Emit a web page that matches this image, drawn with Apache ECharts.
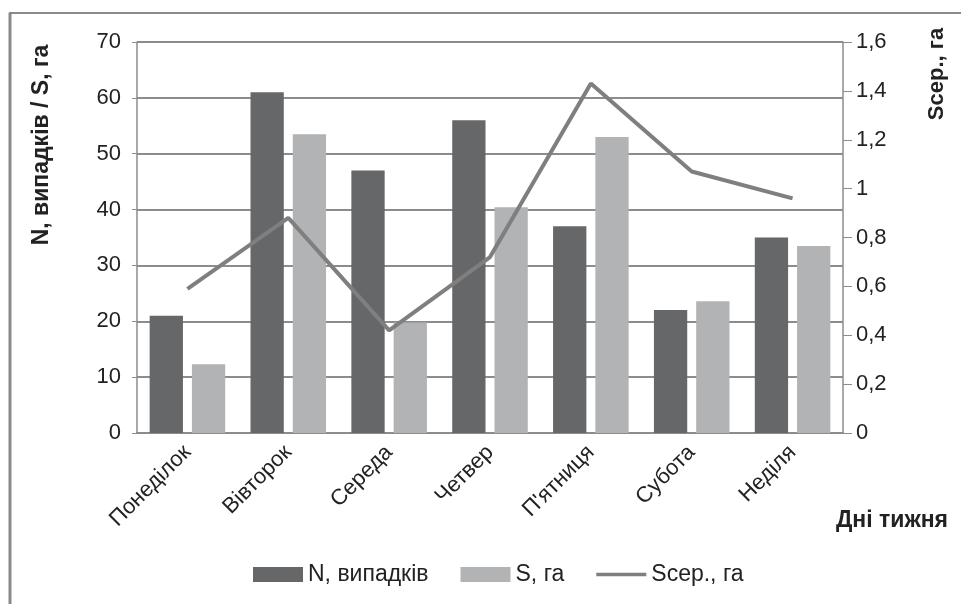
<!DOCTYPE html>
<html>
<head>
<meta charset="utf-8">
<script src="https://cdn.jsdelivr.net/npm/echarts@6/dist/echarts.min.js"></script>
<style>html,body{margin:0;padding:0;background:#fff;}#c{width:961px;height:604px;}</style>
</head>
<body>
<div id="c"></div>
<script>
const categories = ['Понеділок','Вівторок','Середа','Четвер','П\'ятниця','Субота','Неділя'];
const nCases = [21, 61, 47, 56, 37, 22, 35];
const areaS = [12.3, 53.5, 19.8, 40.4, 53, 23.6, 33.5];
const areaAvg = [0.59, 0.88, 0.42, 0.72, 1.43, 1.07, 0.96];
const leftTicks = {min: 0, max: 70, interval: 10};
const rightTicks = {min: 0, max: 1.6, interval: 0.2};

const chart = echarts.init(document.getElementById('c'));
const gridColor = '#8c8c8c';
const font = 'Liberation Sans';
chart.setOption({
  animation: false,
  backgroundColor: '#fff',
  textStyle: {fontFamily: font},
  grid: {left: 137, right: 118, top: 42, bottom: 171, containLabel: false},
  legend: {
    top: 558, left: 248, itemWidth: 50, itemHeight: 15, itemGap: 32,
    textStyle: {fontSize: 23, color: '#222'},
    data: [
      {name: 'N, випадків', icon: 'rect'},
      {name: 'S, га', icon: 'rect'},
      {name: 'Sсер., га', icon: 'path://M0,0L54,0L54,4L0,4Z', itemStyle: {color: '#7f7f7f'}}
    ]
  },
  xAxis: {
    type: 'category', data: categories,
    axisLine: {lineStyle: {color: gridColor, width: 2}},
    axisTick: {show: false},
    axisLabel: {rotate: 45, fontSize: 22, color: '#222', margin: 16, interval: 0}
  },
  yAxis: [
    {
      type: 'value', min: leftTicks.min, max: leftTicks.max, interval: leftTicks.interval,
      axisLine: {show: true, lineStyle: {color: gridColor, width: 1.5}},
      axisTick: {show: true, length: 5, lineStyle: {color: gridColor}},
      splitLine: {lineStyle: {color: gridColor, width: 2}},
      axisLabel: {fontSize: 22, color: '#222', margin: 16}
    },
    {
      type: 'value', min: rightTicks.min, max: rightTicks.max, interval: rightTicks.interval,
      position: 'right',
      axisLine: {show: true, lineStyle: {color: gridColor, width: 1.5}},
      axisTick: {show: true, length: 9, lineStyle: {color: gridColor}},
      splitLine: {show: false},
      axisLabel: {fontSize: 22, color: '#222', margin: 13,
        formatter: v => String(Math.round(v * 10) / 10).replace('.', ',')}
    }
  ],
  series: [
    {name: 'N, випадків', type: 'bar', data: nCases, barWidth: '33%', barGap: '27%',
      itemStyle: {color: '#666769'}},
    {name: 'S, га', type: 'bar', data: areaS, barWidth: '33%',
      itemStyle: {color: '#b2b3b5'}},
    {name: 'Sсер., га', type: 'line', yAxisIndex: 1, data: areaAvg, symbol: 'none',
      lineStyle: {color: '#7f7f7f', width: 4}, itemStyle: {color: '#7f7f7f'}}
  ],
  graphic: [
    {type: 'line', shape: {x1: 9, y1: 13, x2: 961, y2: 13}, style: {stroke: '#8a8a8a', lineWidth: 2}},
    {type: 'line', shape: {x1: 10, y1: 13, x2: 10, y2: 604}, style: {stroke: '#8a8a8a', lineWidth: 3}},
    {type: 'text', x: 42, y: 145, rotation: Math.PI / 2,
      style: {text: 'N, випадків / S, га', font: 'bold 23px Liberation Sans', fill: '#222', align: 'center', verticalAlign: 'middle'}},
    {type: 'text', x: 937, y: 74, rotation: Math.PI / 2,
      style: {text: 'Sсер., га', font: 'bold 22px Liberation Sans', fill: '#222', align: 'center', verticalAlign: 'middle'}},
    {type: 'text', x: 892, y: 521,
      style: {text: 'Дні тижня', font: 'bold 23px Liberation Sans', fill: '#222', align: 'center', verticalAlign: 'middle'}}
  ]
});
</script>
</body>
</html>
